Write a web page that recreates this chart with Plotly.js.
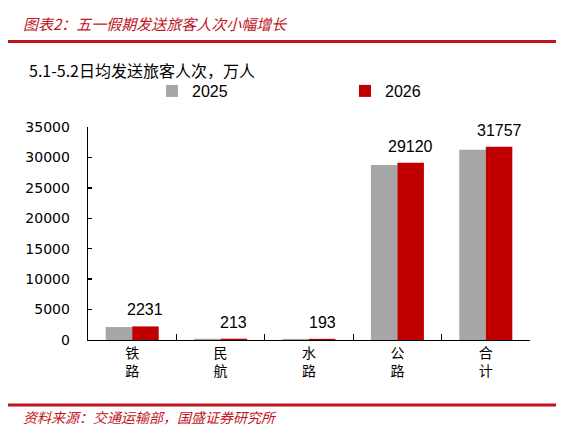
<!DOCTYPE html>
<html>
<head>
<meta charset="utf-8">
<script src="https://cdn.plot.ly/plotly-3.0.1.min.js"></script>
<style>html,body{margin:0;padding:0;background:#fff;}#chart{width:580px;height:433px;}</style>
</head>
<body>
<div id="chart"></div>
<script>
// Data
const categories = ["铁<br>路", "民<br>航", "水<br>路", "公<br>路", "合<br>计"];
const values2025 = [2130, 200, 185, 28740, 31260];
const values2026 = [2231, 213, 193, 29120, 31757];
const seriesNames = ["2025", "2026"];
const titleText = "图表2：五一假期发送旅客人次小幅增长";
const subtitleText = "5.1-5.2日均发送旅客人次，万人";
const sourceText = "资料来源：交通运输部，国盛证券研究所";

const gray = "#A6A6A6";
const red = "#C00000";
const accent = "#C0141E";

// plot-area pixel geometry helpers (for paper-coordinate decorations)
const W = 580, H = 433;
const M = {l: 88, r: 50, t: 127, b: 93};
const pw = W - M.l - M.r, ph = H - M.t - M.b;
const px = x => (x - M.l) / pw;
const py = y => (H - M.b - y) / ph;

const traces = [
  {type: "bar", name: seriesNames[0], x: categories, y: values2025,
   marker: {color: gray}, hoverinfo: "y"},
  {type: "bar", name: seriesNames[1], x: categories, y: values2026,
   marker: {color: red}, hoverinfo: "y"}
];

const annotations = values2026.map((v, i) => ({
  xref: "x", yref: "y", x: i + 0.15, y: v,
  text: String(v), showarrow: false, xanchor: "center", yanchor: "bottom",
  yshift: 6,
  font: {family: "Liberation Sans, Arial, sans-serif", size: 16, color: "#000"}
}));

annotations.push(
  {xref: "paper", yref: "paper", x: px(21), y: py(23), xanchor: "left", yanchor: "middle",
   text: titleText, showarrow: false,
   font: {family: "Noto Sans CJK SC", size: 15, color: accent, style: "italic"}},
  {xref: "paper", yref: "paper", x: px(27), y: py(70), xanchor: "left", yanchor: "middle",
   text: subtitleText, showarrow: false,
   font: {family: "Noto Sans CJK SC", size: 16, color: "#000"}},
  {xref: "paper", yref: "paper", x: px(21), y: py(417), xanchor: "left", yanchor: "middle",
   text: sourceText, showarrow: false,
   font: {family: "Noto Sans CJK SC", size: 14, color: accent, style: "italic"}}
);

const shapes = [
  {type: "line", xref: "paper", yref: "paper", x0: px(8), x1: px(556), y0: py(41.5), y1: py(41.5),
   line: {color: accent, width: 3}},
  {type: "line", xref: "paper", yref: "paper", x0: px(8), x1: px(556), y0: py(405), y1: py(405),
   line: {color: accent, width: 3}}
];

const layout = {
  width: W, height: H,
  margin: M,
  paper_bgcolor: "#fff", plot_bgcolor: "#fff",
  barmode: "group", bargap: 0.4, bargroupgap: 0,
  showlegend: true,
  legend: {orientation: "h", xref: "container", yref: "container",
           x: 152 / W, y: 1 - 74 / H, xanchor: "left", yanchor: "top",
           entrywidth: 148, entrywidthmode: "pixels",
           font: {family: "Liberation Sans, Arial, sans-serif", size: 16, color: "#000"},
           itemclick: false, itemdoubleclick: false},
  xaxis: {type: "category", showline: true, linecolor: "#000", linewidth: 1.3,
          ticks: "inside", tickson: "boundaries", ticklen: 6, tickcolor: "#000", tickwidth: 1.3,
          showgrid: false, zeroline: false, fixedrange: true,
          tickfont: {family: "Noto Sans CJK SC", size: 14, color: "#000"}},
  yaxis: {range: [0, 35000], dtick: 5000, tick0: 0, tickformat: "d",
          showline: true, linecolor: "#000", linewidth: 1.3,
          ticks: "inside", ticklen: 4, tickcolor: "#000", tickwidth: 1.3,
          showgrid: false, zeroline: false, fixedrange: true, ticklabelstandoff: 14,
          tickfont: {family: "DejaVu Sans, Verdana, sans-serif", size: 14, color: "#000"}},
  annotations: annotations,
  shapes: shapes
};

Plotly.newPlot("chart", traces, layout, {displayModeBar: false, staticPlot: true});
</script>
</body>
</html>
